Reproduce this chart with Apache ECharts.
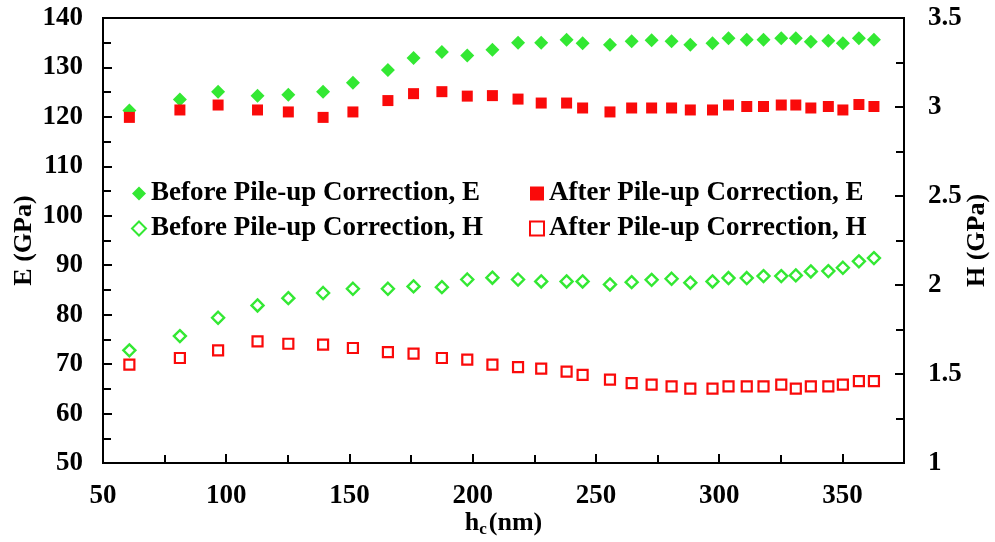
<!DOCTYPE html>
<html>
<head>
<meta charset="utf-8">
<script src="https://cdn.jsdelivr.net/npm/echarts@6/dist/echarts.min.js"></script>
<style>
    html, body { margin: 0; padding: 0; background: #fff; }
    #chart { width: 995px; height: 542px; }
</style>
</head>
<body>
<div id="chart"></div>
<script>
// contact depth h_c (nm)
const hc = [60.7, 81.2, 96.7, 112.7, 125.2, 139.3, 151.4, 165.6, 176.0, 187.5, 197.8, 208.0, 218.4, 227.8, 238.1, 244.6,
    255.7, 264.5, 272.6, 280.7, 288.3, 297.3, 303.8, 311.2, 318.0, 325.2, 331.1, 337.2, 344.3, 350.2, 356.7, 362.8];
// modulus E (GPa)
const eBefore = [121.3, 123.5, 125.1, 124.3, 124.5, 125.1, 126.9, 129.5, 131.9, 133.1, 132.4, 133.6, 135.0, 135.0, 135.6, 134.9,
    134.6, 135.3, 135.5, 135.3, 134.6, 134.9, 135.9, 135.6, 135.6, 135.9, 135.9, 135.2, 135.4, 134.9, 135.9, 135.6];
const eAfter = [119.9, 121.4, 122.4, 121.4, 121.0, 119.9, 121.0, 123.3, 124.7, 125.1, 124.2, 124.3, 123.6, 122.8, 122.8, 121.8,
    121.0, 121.8, 121.8, 121.8, 121.4, 121.4, 122.4, 122.1, 122.1, 122.4, 122.4, 121.8, 122.1, 121.4, 122.5, 122.1];
// hardness H (GPa)
const hBefore = [1.633, 1.713, 1.816, 1.885, 1.926, 1.955, 1.979, 1.979, 1.992, 1.988, 2.031, 2.041, 2.031, 2.020, 2.020, 2.020,
    2.003, 2.016, 2.029, 2.035, 2.013, 2.020, 2.039, 2.039, 2.050, 2.050, 2.054, 2.076, 2.078, 2.097, 2.133, 2.151];
const hAfter = [1.553, 1.590, 1.633, 1.683, 1.670, 1.665, 1.646, 1.623, 1.614, 1.590, 1.581, 1.553, 1.539, 1.530, 1.513, 1.495,
    1.468, 1.449, 1.440, 1.431, 1.418, 1.418, 1.431, 1.431, 1.431, 1.440, 1.418, 1.431, 1.431, 1.440, 1.460, 1.460];

const seriesNames = [
    "Before Pile-up Correction, E",
    "Before Pile-up Correction, H",
    "After Pile-up Correction, E",
    "After Pile-up Correction, H",
];

const green = "#33e833";
const red = "#fa0a0a";
const font = "Liberation Serif";

function pairs(ys) {
    return hc.map(function (x, i) {
        return [x, ys[i]];
    });
}

let chart = echarts.init(document.getElementById("chart"));

function labelStyle(margin) {
    return {
        show: true,
        margin: margin,
        color: "#000",
        fontFamily: font,
        fontWeight: "bold",
        fontSize: 27,
    };
}

const axisLine = { show: true, lineStyle: { color: "#000", width: 2 } };
const axisTick = { show: true, inside: true, length: 9, lineStyle: { color: "#000", width: 2 } };
const minorTick = { show: true, splitNumber: 2, length: 8, lineStyle: { color: "#000", width: 2 } };
const nameStyle = { color: "#000", fontFamily: font, fontWeight: "bold", fontSize: 26 };
const legendText = { color: "#000", fontFamily: font, fontWeight: "bold", fontSize: 27 };

chart.setOption({
    animation: false,
    textStyle: { fontFamily: font, fontWeight: "bold" },
    grid: {
        left: 103,
        right: 91,
        top: 18,
        bottom: 79,
        outerBoundsMode: "none",
        containLabel: false,
        show: true,
        borderColor: "#000",
        borderWidth: 2,
    },
    legend: [
        {
            data: [seriesNames[0], seriesNames[1]],
            orient: "vertical",
            left: 126,
            top: 175,
            itemGap: 8,
            itemWidth: 14,
            itemHeight: 14,
            textStyle: legendText,
        },
        {
            data: [seriesNames[2], seriesNames[3]],
            orient: "vertical",
            left: 524,
            top: 175,
            itemGap: 8,
            itemWidth: 14,
            itemHeight: 14,
            textStyle: legendText,
        },
    ],
    xAxis: {
        type: "value",
        min: 50,
        max: 375,
        interval: 50,
        axisLine: axisLine,
        axisTick: axisTick,
        minorTick: minorTick,
        splitLine: { show: false },
        name: "{a|h}{b|c}{a|(nm)}",
        nameLocation: "middle",
        nameGap: 46,
        nameMoveOverlap: false,
        nameTextStyle: {
            rich: {
                a: { color: "#000", fontFamily: font, fontWeight: "bold", fontSize: 26 },
                b: { color: "#000", fontFamily: font, fontWeight: "bold", fontSize: 17, padding: [12, 2, 0, 0] },
            },
        },
        axisLabel: Object.assign(labelStyle(20), {
            showMaxLabel: false,
            formatter: function (v) {
                return v % 50 === 0 ? String(v) : "";
            },
        }),
    },
    yAxis: [
        {
            type: "value",
            min: 50,
            max: 140,
            interval: 10,
            axisLine: axisLine,
            axisTick: axisTick,
            minorTick: minorTick,
            splitLine: { show: false },
            name: "E (GPa)",
            nameLocation: "middle",
            nameGap: 66,
            nameRotate: 90,
            nameMoveOverlap: false,
            nameTextStyle: nameStyle,
            axisLabel: labelStyle(20),
        },
        {
            type: "value",
            position: "right",
            min: 1,
            max: 3.5,
            interval: 0.5,
            axisLine: axisLine,
            axisTick: axisTick,
            minorTick: minorTick,
            splitLine: { show: false },
            name: "H (GPa)",
            nameLocation: "middle",
            nameGap: 60,
            nameRotate: 90,
            nameMoveOverlap: false,
            nameTextStyle: nameStyle,
            axisLabel: labelStyle(24),
        },
    ],
    series: [
        {
            name: seriesNames[0],
            type: "scatter",
            yAxisIndex: 0,
            symbol: "diamond",
            symbolSize: 14,
            itemStyle: { color: green, opacity: 1 },
            data: pairs(eBefore),
        },
        {
            name: seriesNames[1],
            type: "scatter",
            yAxisIndex: 1,
            symbol: "diamond",
            symbolSize: 12,
            itemStyle: { color: "#fff", borderColor: green, borderWidth: 2.4, opacity: 1 },
            data: pairs(hBefore),
        },
        {
            name: seriesNames[2],
            type: "scatter",
            yAxisIndex: 0,
            symbol: "rect",
            symbolSize: 11,
            itemStyle: { color: red, opacity: 1 },
            data: pairs(eAfter),
        },
        {
            name: seriesNames[3],
            type: "scatter",
            yAxisIndex: 1,
            symbol: "rect",
            symbolSize: 10,
            itemStyle: { color: "#fff", borderColor: red, borderWidth: 2.2, opacity: 1 },
            data: pairs(hAfter),
        },
    ],
});

window.addEventListener("resize", function () {
    chart.resize();
});
</script>
</body>
</html>
